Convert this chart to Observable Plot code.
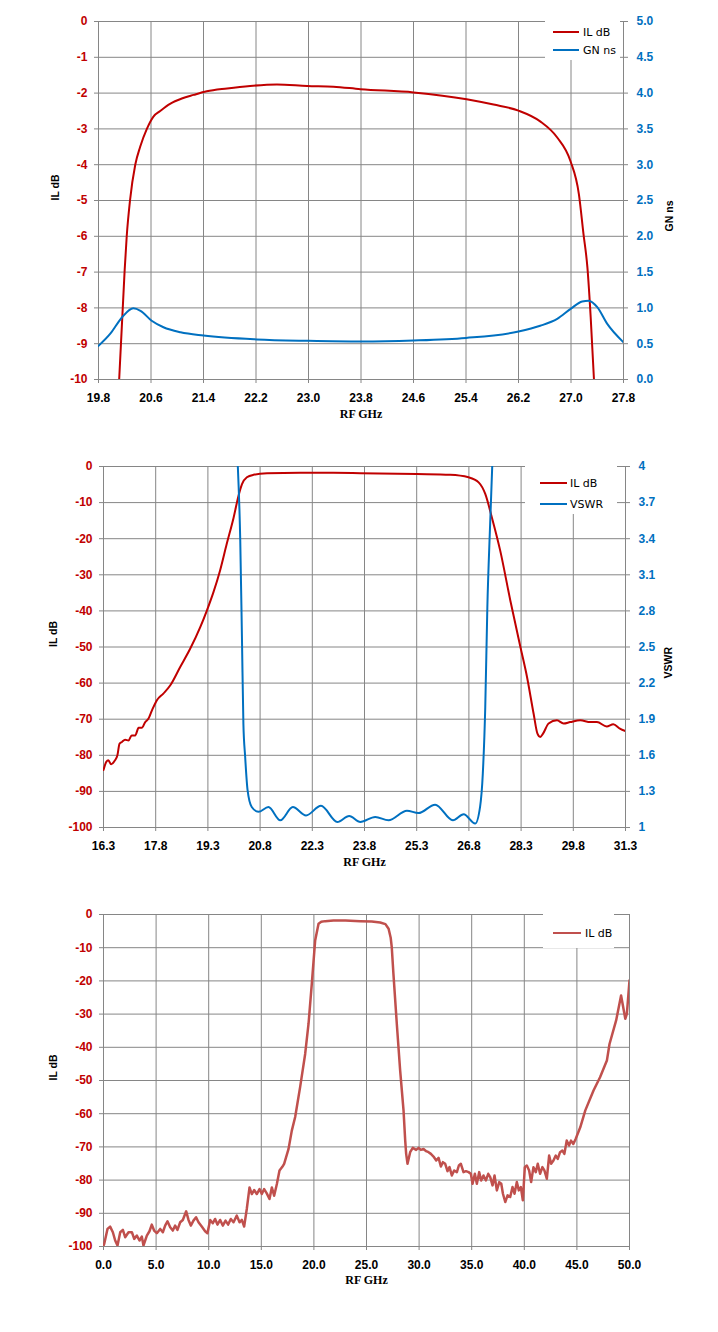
<!DOCTYPE html>
<html><head><meta charset="utf-8">
<script src="https://cdn.jsdelivr.net/npm/d3@7"></script>
<script src="https://cdn.jsdelivr.net/npm/@observablehq/plot@0.6"></script>
<style>
html,body{margin:0;padding:0;background:#fff;overflow:hidden;}
#root{position:relative;width:718px;height:1332px;}
.layer{position:absolute;left:0;}
.legend{position:absolute;background:#fff;font-family:"DejaVu Sans",Verdana,sans-serif;font-size:11px;color:#000;}
.legend .row{position:absolute;display:flex;align-items:center;white-space:nowrap;height:14px;}
.legend .sw{height:2.5px;}
</style></head><body><div id="root"></div>
<script>
// ---------- Chart 1: passband IL + group delay ----------
const rfIL1 = [20.115,20.197,20.23,20.28,20.36,20.435,20.537,20.64,20.74,20.89,21.07,21.25,21.45,21.76,22.11,22.52,22.98,23.38,23.79,24.6,25.41,25.82,26.2,26.53,26.79,26.99,27.12,27.19,27.25,27.3,27.35];
const il1 = [-10,-7,-6,-5,-4,-3.5,-3,-2.65,-2.5,-2.3,-2.15,-2.05,-1.95,-1.87,-1.8,-1.76,-1.8,-1.82,-1.89,-1.98,-2.17,-2.32,-2.49,-2.79,-3.24,-3.89,-4.82,-5.93,-6.87,-8.26,-10];
const rfGN1 = [19.8,19.98,20.16,20.33,20.44,20.61,20.79,21.05,21.4,22.21,23.0,23.8,24.6,25.4,26.2,26.53,26.79,27.0,27.17,27.27,27.4,27.55,27.8];
const gn1 = [0.47,0.64,0.87,0.995,0.96,0.82,0.73,0.66,0.614,0.56,0.54,0.53,0.544,0.58,0.67,0.75,0.847,0.99,1.09,1.10,1.01,0.78,0.52];
const xTicks1 = [19.8,20.6,21.4,22.2,23.0,23.8,24.6,25.4,26.2,27.0,27.8];
const yTicks1 = [-10,-9,-8,-7,-6,-5,-4,-3,-2,-1,0];
const y2Ticks1 = [0,0.5,1,1.5,2,2.5,3,3.5,4,4.5,5];

// ---------- Chart 2: IL + VSWR ----------
const rfIL2 = [16.3,16.38,16.44,16.52,16.63,16.7,16.76,16.83,16.92,17.02,17.11,17.21,17.31,17.4,17.5,17.59,17.69,17.83,18.02,18.22,18.5,18.79,19.08,19.27,19.46,19.65,19.84,20.04,20.18,20.28,20.42,20.61,21.0,21.95,22.9,23.68,25.3,26.26,26.79,27.08,27.27,27.46,27.7,27.99,28.28,28.47,28.66,28.77,28.85,28.93,29.09,29.33,29.52,29.71,30.0,30.29,30.48,30.76,30.95,31.14,31.3];
const il2 = [-84.1,-81.8,-81.4,-82.5,-81.4,-80.0,-76.8,-76.3,-75.7,-75.9,-74.5,-74.5,-72.4,-72.4,-70.8,-69.9,-67.6,-64.8,-62.9,-60.6,-55.6,-50.5,-44.5,-39.9,-34.8,-28.8,-21.5,-14.1,-8.1,-4.9,-3.0,-2.3,-1.9,-1.75,-1.75,-1.84,-2.1,-2.3,-3.0,-4.4,-7.6,-14.1,-23.3,-37.1,-50.0,-58.3,-68.5,-74.0,-74.9,-74.0,-71.2,-70.3,-71.2,-70.8,-70.3,-70.8,-70.8,-72.0,-71.4,-72.6,-73.3];
const rfVS2 = [20.16,20.23,20.28,20.32,20.37,20.44,20.56,20.75,21.04,21.38,21.74,22.12,22.55,23.02,23.36,23.68,24.11,24.49,25.02,25.35,25.83,26.34,26.65,26.98,27.12,27.2,27.27,27.33,27.41,27.47];
const vswr2 = [4.0,3.38,2.55,1.86,1.59,1.31,1.17,1.13,1.17,1.06,1.17,1.10,1.18,1.046,1.096,1.046,1.088,1.06,1.14,1.12,1.19,1.06,1.11,1.033,1.17,1.45,2.0,2.83,3.52,4.0];
const xTicks2 = [16.3,17.8,19.3,20.8,22.3,23.8,25.3,26.8,28.3,29.8,31.3];
const yTicks2 = [-100,-90,-80,-70,-60,-50,-40,-30,-20,-10,0];
const y2Ticks2 = [1,1.3,1.6,1.9,2.2,2.5,2.8,3.1,3.4,3.7,4];

// ---------- Chart 3: wideband IL ----------
const rf3 = [0.0,0.07,0.38,0.63,0.89,1.11,1.33,1.59,1.84,2.06,2.38,2.7,2.92,3.17,3.42,3.64,3.8,4.12,4.37,4.59,4.81,5.07,5.39,5.64,5.86,6.08,6.34,6.59,6.81,7.03,7.29,7.54,7.86,8.08,8.3,8.55,8.8,9.03,9.34,9.66,9.88,10.14,10.39,10.61,10.83,11.09,11.34,11.6,11.85,12.1,12.36,12.67,12.93,13.15,13.37,13.62,13.88,14.1,14.32,14.57,14.83,15.05,15.27,15.52,15.78,16.0,16.22,16.48,16.73,17.0,17.17,17.59,17.9,18.22,18.69,19.17,19.49,19.8,20.12,20.44,20.7,21.07,21.86,23.0,24.4,25.5,26.3,26.8,27.1,27.3,27.4,27.56,27.88,28.2,28.52,28.68,28.77,28.9,29.15,29.4,29.72,29.95,30.17,30.42,30.67,30.9,31.12,31.37,31.63,31.85,32.07,32.26,32.48,32.7,32.89,33.11,33.33,33.59,33.78,33.97,34.22,34.45,34.7,34.92,35.08,35.3,35.49,35.71,35.9,36.12,36.35,36.57,36.76,36.98,37.17,37.39,37.62,37.81,37.97,38.19,38.41,38.66,38.88,39.07,39.29,39.48,39.67,39.86,40.05,40.24,40.46,40.65,40.87,41.09,41.28,41.5,41.72,41.91,42.14,42.36,42.55,42.77,42.99,43.18,43.4,43.62,43.81,44.03,44.25,44.44,44.66,44.88,45.32,45.8,46.58,47.2,47.85,48.1,48.73,49.2,49.6,49.75,50.0];
const il3 = [-99.8,-99.2,-94.7,-94.0,-95.7,-98.2,-99.7,-95.7,-95.0,-97.2,-95.7,-95.7,-97.7,-96.7,-98.2,-97.0,-99.7,-96.7,-95.4,-93.4,-95.2,-96.0,-94.7,-95.7,-93.7,-92.4,-94.2,-95.2,-93.7,-95.0,-92.7,-92.0,-89.4,-92.0,-93.7,-92.2,-91.2,-92.7,-94.0,-95.4,-96.0,-92.0,-93.0,-91.7,-93.4,-92.0,-93.7,-92.2,-93.4,-91.7,-92.7,-90.7,-92.7,-92.0,-94.0,-88.7,-82.2,-84.2,-83.0,-84.2,-82.7,-84.2,-82.7,-84.0,-85.7,-82.2,-84.7,-81.2,-77.1,-76.0,-75.1,-70.6,-65.1,-61.0,-52.0,-42.0,-32.9,-20.9,-7.8,-2.8,-2.2,-2.0,-1.8,-1.8,-2.0,-2.1,-2.4,-2.9,-4.3,-7.0,-9.8,-17.9,-32.9,-47.0,-59.0,-68.1,-72.1,-75.1,-71.6,-70.3,-70.9,-70.3,-70.9,-70.6,-71.3,-71.6,-72.1,-72.9,-74.1,-73.3,-75.9,-74.6,-75.1,-77.3,-76.1,-78.6,-77.1,-77.6,-75.6,-75.1,-77.6,-77.3,-77.6,-78.1,-81.1,-78.1,-81.1,-77.6,-80.1,-78.6,-80.1,-78.1,-79.1,-81.6,-78.6,-83.1,-80.6,-81.1,-84.1,-86.6,-84.6,-85.1,-82.1,-84.1,-80.6,-83.1,-82.1,-86.1,-76.1,-75.6,-77.1,-80.6,-76.1,-77.6,-75.1,-78.1,-76.1,-77.1,-79.6,-72.6,-75.1,-74.1,-72.6,-73.6,-71.6,-71.1,-72.1,-68.1,-69.6,-68.1,-69.1,-67.6,-64.1,-59.0,-53.0,-49.0,-44.0,-39.0,-31.9,-24.4,-31.4,-29.9,-19.9];
const xTicks3 = [0,5,10,15,20,25,30,35,40,45,50];
const yTicks3 = [-100,-90,-80,-70,-60,-50,-40,-30,-20,-10,0];

// ---------- shared styling ----------
const GRID = "#868686";
const RED = "#c00000", BLUE = "#0070c0", RED3 = "#c0504d";
const TICKFONT = "'Liberation Sans', Arial, sans-serif";
const rows = (xs, ys) => xs.map((f, i) => ({f, v: ys[i]}));
const root = document.getElementById("root");

function addLayer(el, top) {
  el.classList.add("layer");
  el.style.top = top + "px";
  root.appendChild(el);
}

function chart(o) {
  const common = {width: 718, height: o.height, marginLeft: o.ml, marginRight: o.mr, marginTop: o.mt, marginBottom: o.mb};
  const basePlot = Plot.plot({
    ...common,
    style: {background: "transparent", overflow: "visible", fontFamily: TICKFONT},
    x: {domain: o.xDomain},
    y: {domain: o.yDomain},
    marks: [
      Plot.gridX(o.xTicks, {stroke: GRID, strokeOpacity: 1, strokeWidth: 1}),
      Plot.gridY(o.yTicks, {stroke: GRID, strokeOpacity: 1, strokeWidth: 1}),
      Plot.axisX(o.xTicks, {tickSize: 4, tickPadding: 10, tickFormat: d => d.toFixed(1), stroke: GRID, fill: "#000", fontWeight: "bold", fontSize: 12, label: null}),
      Plot.axisY(o.yTicks, {anchor: "left", tickSize: 4, tickPadding: 7, tickFormat: d => String(d), stroke: GRID, fill: RED, fontWeight: "bold", fontSize: 12, label: null}),
      Plot.line(o.data1, {x: "f", y: "v", stroke: o.color1, strokeWidth: o.sw1, curve: o.curve1, clip: true}),
      Plot.text(["RF GHz"], {frameAnchor: "bottom", dy: o.xTitleDy, text: d => d, fontFamily: "'Liberation Serif', 'Times New Roman', serif", fontWeight: "bold", fontSize: 12, fill: "#000"}),
      Plot.text([o.yLabel], {frameAnchor: "left", dx: o.yLabelDx, rotate: -90, text: d => d, fontWeight: "bold", fontSize: 10.5, fill: "#000"}),
      ...(o.y2Label ? [Plot.text([o.y2Label], {frameAnchor: "right", dx: o.y2LabelDx, rotate: -90, text: d => d, fontWeight: "bold", fontSize: 10.5, fill: "#000"})] : [])
    ]
  });
  addLayer(basePlot, o.top);

  if (o.data2) {
    const over = Plot.plot({
      ...common,
      style: {background: "transparent", overflow: "visible", fontFamily: TICKFONT},
      x: {domain: o.xDomain, axis: null},
      y: {domain: o.y2Domain},
      marks: [
        Plot.axisY(o.y2Ticks, {anchor: "right", tickSize: 4, tickPadding: 9, tickFormat: o.y2Fmt, stroke: GRID, fill: BLUE, fontWeight: "bold", fontSize: 12, label: null}),
        Plot.line(o.data2, {x: "f", y: "v", stroke: BLUE, strokeWidth: 2, curve: "monotone-x", clip: true})
      ]
    });
    addLayer(over, o.top);
  }

  // legend
  const lg = document.createElement("div");
  lg.className = "legend";
  const L = o.legend;
  lg.style.left = L.x + "px"; lg.style.top = L.y + "px";
  lg.style.width = L.w + "px"; lg.style.height = L.h + "px";
  L.items.forEach((it, i) => {
    const r = document.createElement("div");
    r.className = "row";
    r.style.left = L.lineX + "px";
    r.style.top = (L.rowY[i] - 7) + "px";
    const sw = document.createElement("div");
    sw.className = "sw";
    sw.style.width = L.lineW + "px";
    sw.style.background = it.color;
    sw.style.marginRight = L.gap + "px";
    const t = document.createElement("span");
    t.textContent = it.label;
    r.appendChild(sw); r.appendChild(t);
    lg.appendChild(r);
  });
  root.appendChild(lg);
}

chart({
  top: 0, height: 440, ml: 98, mr: 95, mt: 21, mb: 61,
  xDomain: [19.8, 27.8], xTicks: xTicks1,
  yDomain: [-10, 0], yTicks: yTicks1,
  data1: rows(rfIL1, il1), color1: RED, sw1: 2, curve1: "monotone-x",
  data2: rows(rfGN1, gn1), y2Domain: [0, 5], y2Ticks: y2Ticks1, y2Fmt: d => d.toFixed(1),
  yLabel: "IL dB", yLabelDx: -43, y2Label: "GN ns", y2LabelDx: 46, xTitleDy: 38,
  legend: {x: 545, y: 21, w: 75, h: 39, lineX: 8, lineW: 26, gap: 4, rowY: [11, 29],
    items: [{label: "IL dB", color: RED}, {label: "GN ns", color: BLUE}]}
});

chart({
  top: 440, height: 445, ml: 103, mr: 93, mt: 26, mb: 58,
  xDomain: [16.3, 31.3], xTicks: xTicks2,
  yDomain: [-100, 0], yTicks: yTicks2,
  data1: rows(rfIL2, il2), color1: RED, sw1: 2, curve1: "monotone-x",
  data2: rows(rfVS2, vswr2), y2Domain: [1, 4], y2Ticks: y2Ticks2, y2Fmt: d => String(d),
  yLabel: "IL dB", yLabelDx: -50, y2Label: "VSWR", y2LabelDx: 43, xTitleDy: 38,
  legend: {x: 525, y: 466, w: 92, h: 48, lineX: 15, lineW: 27, gap: 3, rowY: [17, 38],
    items: [{label: "IL dB", color: RED}, {label: "VSWR", color: BLUE}]}
});

chart({
  top: 885, height: 447, ml: 103, mr: 89, mt: 29, mb: 86,
  xDomain: [0, 50], xTicks: xTicks3,
  yDomain: [-100, 0], yTicks: yTicks3,
  data1: rows(rf3, il3), color1: RED3, sw1: 2.5, curve1: "linear",
  yLabel: "IL dB", yLabelDx: -50, xTitleDy: 37,
  legend: {x: 543, y: 914, w: 71, h: 34, lineX: 10, lineW: 28, gap: 4, rowY: [19],
    items: [{label: "IL dB", color: RED3}]}
});
</script>
</body></html>
